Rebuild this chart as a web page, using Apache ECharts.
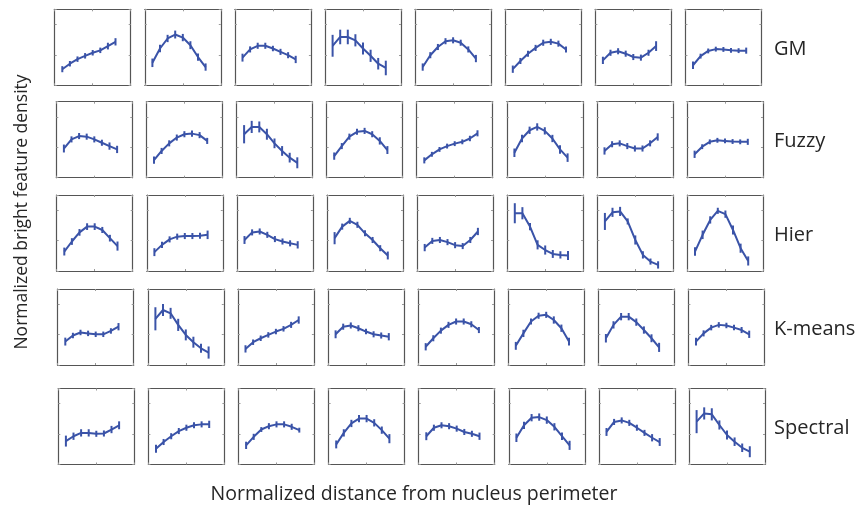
<!DOCTYPE html>
<html>
<head>
<meta charset="utf-8">
<script src="https://cdn.jsdelivr.net/npm/echarts@6/dist/echarts.min.js"></script>
<style>
html,body{margin:0;padding:0;background:#fff;}
#chart{width:860px;height:506px;}
</style>
</head>
<body>
<div id="chart"></div>
<script>
// ---- data ----
const methods = ['GM', 'Fuzzy', 'Hier', 'K-means', 'Spectral'];
const xPositions = [1, 2, 3, 4, 5, 6, 7, 8];
const xTicks = [0, 5, 10];
const yTicks = [0, 1, 2];

const gmMeans = [
  [0.53,0.71,0.86,0.97,1.07,1.15,1.29,1.43],
  [0.74,1.21,1.54,1.67,1.57,1.32,0.93,0.60],
  [0.91,1.18,1.30,1.30,1.21,1.10,0.99,0.85],
  [1.30,1.59,1.59,1.48,1.21,0.97,0.71,0.57],
  [0.60,0.99,1.26,1.45,1.48,1.40,1.18,0.88],
  [0.53,0.80,1.04,1.23,1.40,1.43,1.37,1.18],
  [0.82,1.07,1.12,1.04,0.93,0.91,1.07,1.29],
  [0.66,0.96,1.13,1.19,1.18,1.15,1.14,1.14]
];
const gmErrs = [
  [0.10,0.09,0.09,0.09,0.09,0.09,0.11,0.12],
  [0.14,0.12,0.12,0.13,0.12,0.13,0.12,0.12],
  [0.13,0.10,0.10,0.10,0.09,0.10,0.10,0.12],
  [0.36,0.24,0.24,0.20,0.20,0.20,0.19,0.24],
  [0.12,0.10,0.10,0.10,0.10,0.10,0.10,0.12],
  [0.12,0.10,0.10,0.10,0.10,0.10,0.10,0.10],
  [0.12,0.10,0.10,0.10,0.10,0.10,0.10,0.16],
  [0.12,0.08,0.08,0.08,0.08,0.08,0.08,0.10]
];
const fuzzyMeans = [
  [0.96,1.26,1.37,1.35,1.26,1.15,1.04,0.93],
  [0.58,0.88,1.13,1.32,1.43,1.45,1.40,1.21],
  [1.43,1.67,1.67,1.43,1.13,0.88,0.66,0.49],
  [0.71,1.04,1.35,1.51,1.54,1.43,1.21,0.91],
  [0.57,0.77,0.93,1.04,1.12,1.18,1.29,1.46],
  [0.82,1.29,1.56,1.67,1.54,1.29,0.93,0.66],
  [0.88,1.10,1.13,1.04,0.96,0.96,1.13,1.34],
  [0.77,1.02,1.18,1.23,1.21,1.19,1.18,1.18]
];
const fuzzyErrs = [
  [0.13,0.10,0.10,0.10,0.10,0.10,0.12,0.12],
  [0.12,0.10,0.10,0.10,0.10,0.10,0.10,0.10],
  [0.30,0.20,0.18,0.18,0.16,0.16,0.16,0.18],
  [0.12,0.10,0.10,0.10,0.10,0.10,0.12,0.13],
  [0.10,0.08,0.08,0.08,0.08,0.08,0.09,0.10],
  [0.14,0.12,0.12,0.12,0.12,0.12,0.14,0.14],
  [0.12,0.10,0.10,0.10,0.10,0.10,0.10,0.12],
  [0.12,0.08,0.08,0.08,0.08,0.08,0.08,0.10]
];
const hierMeans = [
  [0.64,0.97,1.27,1.46,1.46,1.35,1.08,0.82],
  [0.62,0.86,1.04,1.13,1.15,1.15,1.16,1.19],
  [1.02,1.27,1.30,1.19,1.05,0.97,0.91,0.86],
  [1.08,1.46,1.65,1.52,1.24,1.02,0.75,0.51],
  [0.77,0.99,1.02,0.95,0.85,0.82,1.02,1.30],
  [1.90,1.90,1.46,0.86,0.69,0.56,0.53,0.51],
  [1.63,1.93,1.96,1.63,1.02,0.53,0.31,0.20],
  [0.64,1.19,1.68,1.98,1.87,1.35,0.75,0.33]
];
const hierErrs = [
  [0.13,0.11,0.11,0.11,0.11,0.10,0.11,0.15],
  [0.13,0.10,0.10,0.10,0.10,0.10,0.10,0.14],
  [0.13,0.10,0.10,0.10,0.10,0.10,0.10,0.12],
  [0.20,0.10,0.10,0.10,0.10,0.10,0.10,0.13],
  [0.12,0.10,0.10,0.10,0.10,0.10,0.10,0.12],
  [0.33,0.20,0.12,0.15,0.15,0.13,0.12,0.15],
  [0.28,0.15,0.15,0.10,0.15,0.12,0.10,0.12],
  [0.14,0.14,0.12,0.10,0.12,0.15,0.15,0.15]
];
const kmeansMeans = [
  [0.77,0.97,1.07,1.04,1.01,1.01,1.12,1.26],
  [1.52,1.81,1.70,1.32,0.99,0.75,0.55,0.41],
  [0.53,0.75,0.88,0.99,1.10,1.19,1.32,1.48],
  [1.01,1.26,1.30,1.21,1.10,1.01,0.97,0.93],
  [0.60,0.88,1.13,1.32,1.43,1.43,1.34,1.15],
  [0.63,1.04,1.43,1.62,1.65,1.48,1.21,0.77],
  [0.88,1.32,1.59,1.59,1.41,1.15,0.88,0.58],
  [0.77,1.04,1.23,1.32,1.30,1.23,1.15,1.01]
];
const kmeansErrs = [
  [0.13,0.09,0.09,0.09,0.09,0.09,0.09,0.12],
  [0.38,0.20,0.18,0.20,0.18,0.18,0.15,0.20],
  [0.12,0.09,0.09,0.09,0.09,0.09,0.10,0.12],
  [0.13,0.10,0.10,0.10,0.09,0.10,0.10,0.12],
  [0.12,0.10,0.10,0.10,0.10,0.10,0.10,0.10],
  [0.13,0.12,0.10,0.10,0.10,0.12,0.12,0.13],
  [0.14,0.12,0.12,0.12,0.12,0.12,0.13,0.15],
  [0.13,0.10,0.09,0.09,0.09,0.09,0.10,0.12]
];
const spectralMeans = [
  [0.77,0.93,1.04,1.04,1.01,1.02,1.15,1.29],
  [0.52,0.74,0.93,1.10,1.21,1.29,1.32,1.32],
  [0.63,0.91,1.15,1.26,1.32,1.32,1.24,1.13],
  [0.66,1.04,1.35,1.51,1.51,1.37,1.13,0.85],
  [0.93,1.21,1.29,1.26,1.18,1.07,1.01,0.93],
  [0.88,1.29,1.54,1.56,1.46,1.24,0.93,0.63],
  [1.07,1.40,1.45,1.37,1.21,1.04,0.88,0.74],
  [1.41,1.68,1.65,1.30,0.97,0.75,0.55,0.42]
];
const spectralErrs = [
  [0.18,0.12,0.12,0.12,0.10,0.10,0.12,0.13],
  [0.13,0.10,0.10,0.10,0.10,0.10,0.10,0.12],
  [0.12,0.10,0.08,0.10,0.10,0.10,0.10,0.08],
  [0.13,0.12,0.12,0.12,0.12,0.12,0.12,0.15],
  [0.13,0.10,0.10,0.10,0.10,0.10,0.10,0.12],
  [0.14,0.12,0.12,0.12,0.12,0.12,0.12,0.15],
  [0.13,0.10,0.10,0.10,0.10,0.10,0.12,0.13],
  [0.38,0.20,0.20,0.15,0.15,0.14,0.14,0.18]
];

const allMeans = [gmMeans, fuzzyMeans, hierMeans, kmeansMeans, spectralMeans];
const allErrs = [gmErrs, fuzzyErrs, hierErrs, kmeansErrs, spectralErrs];

// ---- layout ----
const rowTops = [9.3, 101.7, 195, 289, 388.5];
const rowLefts = [54.7, 56.3, 56.7, 57.7, 58.3];
const colStep = 90.1;
const panelSize = 76;
const lineColor = '#3a53a8';
const frameColor = '#555555';
const textColor = '#262626';
const fontFam = '"Open Sans", "Noto Sans", sans-serif';

const grids = [], xAxes = [], yAxes = [], series = [], graphics = [];

function axisCommon(){
  return {
    axisLine: {show: true, onZero: false, lineStyle: {color: frameColor, width: 1.2}},
    axisTick: {show: true, inside: true, length: 2, lineStyle: {color: '#999', width: 1}},
    axisLabel: {show: false},
    splitLine: {show: false}
  };
}

let g = 0;
for (let r = 0; r < 5; r++) {
  for (let c = 0; c < 8; c++) {
    grids.push({left: rowLefts[r] + c * colStep, top: rowTops[r], width: panelSize, height: panelSize, containLabel: false});
    ['bottom', 'top'].forEach(pos => {
      xAxes.push(Object.assign({type: 'value', gridIndex: g, position: pos, min: xTicks[0], max: xTicks[xTicks.length - 1], interval: xTicks[1] - xTicks[0]}, axisCommon()));
    });
    ['left', 'right'].forEach(pos => {
      yAxes.push(Object.assign({type: 'value', gridIndex: g, position: pos, min: yTicks[0], max: 2.5, interval: yTicks[1] - yTicks[0]}, axisCommon()));
    });
    const m = allMeans[r][c], e = allErrs[r][c];
    series.push({
      type: 'line', xAxisIndex: 2 * g, yAxisIndex: 2 * g,
      data: xPositions.map((x, i) => [x, m[i]]),
      symbol: 'none', silent: true,
      lineStyle: {color: lineColor, width: 2}
    });
    series.push({
      type: 'custom', coordinateSystem: 'cartesian2d', xAxisIndex: 2 * g, yAxisIndex: 2 * g,
      data: xPositions.map((x, i) => [x, m[i] - e[i], m[i] + e[i]]),
      encode: {x: 0, y: [1, 2]}, silent: true,
      renderItem: function (params, api) {
        const p1 = api.coord([api.value(0), api.value(1)]);
        const p2 = api.coord([api.value(0), api.value(2)]);
        return {type: 'line', shape: {x1: p1[0], y1: p1[1], x2: p2[0], y2: p2[1]}, style: {stroke: lineColor, lineWidth: 2}};
      }
    });
    g++;
  }
  graphics.push({
    type: 'text', x: 774, y: rowTops[r] + panelSize / 2 + 2,
    style: {text: methods[r], fill: textColor, font: '20px ' + fontFam, align: 'left', verticalAlign: 'middle'}
  });
}

graphics.push({
  type: 'text', x: 414, y: 494,
  style: {text: 'Normalized distance from nucleus perimeter', fill: textColor, font: '19.5px ' + fontFam, align: 'center', verticalAlign: 'middle'}
});
graphics.push({
  type: 'text', x: 22, y: 212, rotation: Math.PI / 2,
  style: {text: 'Normalized bright feature density', fill: textColor, font: '17.5px ' + fontFam, align: 'center', verticalAlign: 'middle'}
});

const chart = echarts.init(document.getElementById('chart'), null, {renderer: 'canvas'});
chart.setOption({
  animation: false,
  backgroundColor: '#fff',
  grid: grids,
  xAxis: xAxes,
  yAxis: yAxes,
  series: series,
  graphic: graphics
});
</script>
</body>
</html>
